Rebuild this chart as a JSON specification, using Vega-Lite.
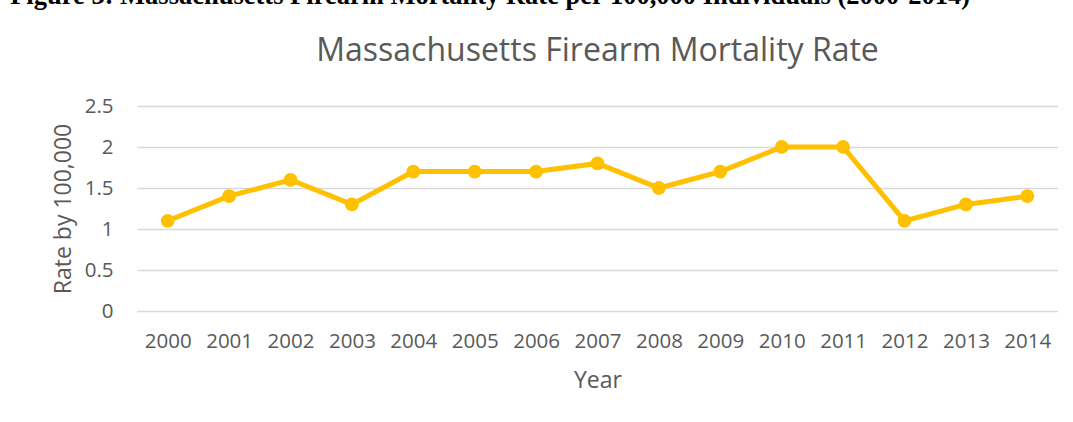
{
  "$schema": "https://vega.github.io/schema/vega-lite/v6.json",
  "padding": {"left": 10, "top": -18, "right": 0, "bottom": 6},
  "background": "white",
  "title": {
    "text": "Figure 3: Massachusetts Firearm Mortality Rate per 100,000 Individuals (2000-2014)",
    "anchor": "start",
    "font": "Liberation Serif",
    "fontSize": 26.5,
    "fontWeight": "bold",
    "color": "black",
    "dx": -42,
    "offset": 26
  },
  "config": {
    "font": "Open Sans",
    "view": {"stroke": null},
    "axis": {
      "labelColor": "#595959",
      "titleColor": "#595959",
      "labelFont": "Open Sans",
      "titleFont": "Open Sans",
      "labelFontSize": 20.5,
      "titleFontSize": 23,
      "titleFontWeight": "normal",
      "domain": false,
      "ticks": false
    }
  },
  "vconcat": [
    {
      "width": 921,
      "height": 205,
      "title": {
        "text": "Massachusetts Firearm Mortality Rate",
        "font": "Open Sans",
        "fontSize": 32,
        "fontWeight": "normal",
        "color": "#595959",
        "anchor": "middle",
        "offset": 28
      },
      "data": {
        "values": [
          {"Year": "2000", "Rate": 1.1},
          {"Year": "2001", "Rate": 1.4},
          {"Year": "2002", "Rate": 1.6},
          {"Year": "2003", "Rate": 1.3},
          {"Year": "2004", "Rate": 1.7},
          {"Year": "2005", "Rate": 1.7},
          {"Year": "2006", "Rate": 1.7},
          {"Year": "2007", "Rate": 1.8},
          {"Year": "2008", "Rate": 1.5},
          {"Year": "2009", "Rate": 1.7},
          {"Year": "2010", "Rate": 2.0},
          {"Year": "2011", "Rate": 2.0},
          {"Year": "2012", "Rate": 1.1},
          {"Year": "2013", "Rate": 1.3},
          {"Year": "2014", "Rate": 1.4}
        ]
      },
      "encoding": {
        "x": {
          "field": "Year",
          "type": "ordinal",
          "scale": {"type": "point", "padding": 0.5},
          "axis": {"title": "Year", "labelAngle": 0, "labelPadding": 20, "titlePadding": 18, "grid": false}
        },
        "y": {
          "field": "Rate",
          "type": "quantitative",
          "scale": {"domain": [0, 2.5], "nice": false},
          "axis": {
            "title": "Rate by 100,000",
            "values": [0, 0.5, 1, 1.5, 2, 2.5],
            "format": ".1~f",
            "labelPadding": 24,
            "titlePadding": 9,
            "grid": true,
            "gridColor": "#d9d9d9",
            "gridWidth": 1.5
          }
        }
      },
      "layer": [
        {"mark": {"type": "line", "color": "#FFC000", "strokeWidth": 5}},
        {"mark": {"type": "point", "filled": true, "color": "#FFC000", "opacity": 1, "size": 190}}
      ]
    }
  ]
}
